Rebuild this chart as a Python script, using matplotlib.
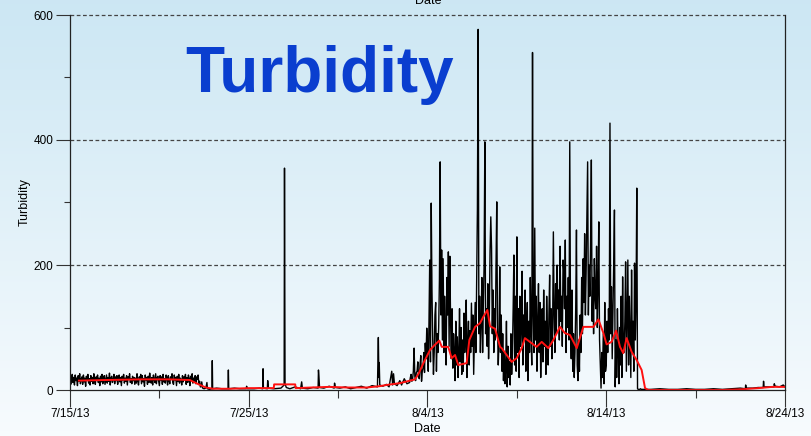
import numpy as np
import pandas as pd
import matplotlib
matplotlib.use("Agg")
import matplotlib.pyplot as plt
from matplotlib.ticker import MultipleLocator

# ---- data ----
start = pd.Timestamp("2013-07-15 00:00")

# 7/15 - 7/22, hourly readings
base_vals = [
    22, 9, 18, 25, 12, 20, 8, 24, 15, 19, 7, 23, 14, 26, 10, 17, 21, 9, 24, 13, 19, 6,
    22, 16, 25, 11, 18, 8, 23, 14, 20, 10, 26, 15, 9, 21, 17, 24, 12, 19, 7, 22, 13, 25,
    10, 18, 23, 9, 16, 24, 11, 20, 14, 27, 8, 19, 22, 12, 17, 25, 10, 21, 15, 23, 9, 18,
    24, 13, 20, 7, 22, 16, 25, 11, 19, 14, 23, 8, 21, 17, 26, 12, 18, 10, 22, 15, 20, 9,
    19, 11, 26, 14, 8, 21, 17, 25, 10, 23, 13, 18, 6, 24, 16, 20, 9, 22, 12, 27, 15, 11,
    20, 8, 24, 17, 12, 26, 10, 19, 22, 14, 7, 23, 16, 21, 9, 25, 13, 18, 11, 24, 19, 8,
    23, 15, 10, 21, 18, 26, 12, 9, 24, 16, 20, 7, 22, 14, 25, 11, 19, 17, 8, 23, 13, 21,
    16, 25, 9, 20, 12, 24, 18, 7, 22, 15, 26, 11, 19, 13, 23, 10, 21, 17, 24, 9, 14, 5,
]

# 7/22 - 8/3, quiet period (day offset from 7/15, value)
quiet_days = [7.33, 7.37, 7.42, 7.5, 7.6, 7.66, 7.69, 7.8, 7.94, 7.96, 7.98, 8.2,
              8.5, 8.84, 8.86, 8.88, 9.2, 9.5, 9.86, 9.88, 9.92, 10.3, 10.6, 10.78,
              10.8, 10.82, 11.04, 11.06, 11.1, 11.4, 11.8, 11.98, 12.0, 12.03, 12.1,
              12.3, 12.6, 12.9, 12.96, 13.0, 13.3, 13.6, 13.88, 13.9, 13.93, 13.96,
              14.2, 14.5, 14.78, 14.8, 14.85, 15.1, 15.4, 15.7, 16.0, 16.3, 16.6,
              16.9, 17.2, 17.25, 17.28, 17.3, 17.33, 17.5, 17.7, 17.85, 18.0, 18.05,
              18.1, 18.15, 18.3, 18.45, 18.55, 18.7, 18.85]
quiet_vals = [5, 13, 3, 2, 3, 12, 2, 1, 2, 47, 2, 3,
              2, 2, 32, 2, 3, 2, 2, 6, 2, 2, 3, 2,
              34, 3, 2, 15, 3, 2, 3, 8, 355, 10, 4,
              2, 5, 2, 13, 3, 2, 4, 3, 32, 20, 4,
              3, 6, 3, 11, 4, 3, 5, 2, 4, 6, 3,
              7, 5, 84, 20, 44, 8, 6, 9, 5, 30, 8,
              26, 10, 7, 15, 8, 18, 10]

# 8/3 - 8/15, storm period, hourly readings (one row per day)
storm_vals = [
    12, 20, 25, 14, 18, 30, 67, 22, 15, 28, 30, 45, 22, 18, 40, 55, 14, 30, 35, 60, 28, 75, 50, 99,            # 8/3
    70, 30, 110, 208, 45, 299, 160, 80, 25, 60, 120, 140, 30, 90, 60, 100, 176, 365, 120, 224, 80, 210, 60, 150,  # 8/4
    90, 40, 180, 120, 221, 70, 214, 110, 50, 130, 35, 90, 60, 15, 110, 40, 85, 20, 60, 130, 45, 100, 25, 80,    # 8/5
    30, 123, 60, 90, 144, 20, 75, 110, 40, 95, 60, 139, 70, 120, 25, 85, 140, 60, 180, 288, 577, 90, 150, 60,   # 8/6
    110, 180, 60, 140, 200, 397, 90, 130, 70, 170, 50, 120, 224, 277, 227, 90, 160, 60, 130, 80, 200, 301, 100, 40,  # 8/7
    80, 197, 60, 120, 30, 90, 15, 60, 10, 40, 110, 5, 70, 20, 45, 8, 90, 25, 60, 130, 216, 40, 150, 30,        # 8/8
    245, 60, 130, 20, 150, 70, 100, 190, 40, 120, 80, 160, 30, 100, 140, 15, 110, 60, 180, 90, 40, 540, 120, 60,  # 8/9
    259, 80, 150, 30, 110, 170, 60, 140, 20, 90, 130, 45, 160, 70, 110, 25, 150, 90, 40, 120, 184, 70, 130, 50,  # 8/10
    100, 253, 120, 60, 170, 90, 200, 130, 160, 80, 230, 110, 150, 70, 208, 190, 130, 240, 60, 150, 100, 180, 80, 397,  # 8/11
    110, 50, 160, 30, 90, 20, 60, 130, 256, 40, 15, 80, 30, 120, 60, 180, 90, 210, 140, 250, 120, 190, 283, 365,  # 8/12
    120, 200, 150, 240, 368, 110, 180, 90, 210, 150, 130, 230, 100, 170, 269, 80, 40, 3, 60, 20, 90, 10, 140, 30,  # 8/13
    40, 110, 60, 130, 80, 427, 90, 165, 50, 120, 200, 288, 5, 80, 20, 130, 60, 10, 100, 40, 150, 20, 181, 60,   # 8/14
    60, 110, 205, 30, 120, 208, 40, 150, 80, 20, 192, 60, 110, 30, 203, 80, 140, 323, 2, 1, 1, 1, 2, 1,         # 8/15
]

# 8/16 - 8/24 tail (day offset from 7/15, value)
tail_days = [32.0, 32.5, 33.0, 33.5, 34.0, 34.5, 35.0, 35.5, 36.0, 36.5, 37.0,
             37.5, 37.78, 37.8, 37.83, 38.2, 38.5, 38.78, 38.8, 38.83, 39.1,
             39.38, 39.4, 39.45, 39.7, 39.9, 40.0]
tail_vals = [1, 1, 2, 1, 1, 2, 1, 1, 2, 1, 2,
             3, 2, 8, 3, 3, 4, 4, 14, 5, 5,
             5, 10, 6, 5, 8, 5]

# running mean (red)
avg_days = [0.5, 2, 4, 5.5, 6.7, 7.2, 7.6, 8.0, 9, 10, 10.8, 11.4, 11.42, 12.6,
            12.62, 13.5, 14.5, 15.5, 16.6, 17.3, 17.7, 18.46, 19.3, 19.5, 19.77,
            20.14, 20.4, 20.66, 20.8, 21.16, 21.35, 21.54, 21.72, 22.19, 22.34,
            22.66, 22.94, 23.12, 23.35, 23.5, 23.78, 24.06, 24.15, 24.43, 24.71,
            24.99, 25.27, 25.45, 25.73, 26.1, 26.39, 26.76, 27.04, 27.41, 27.69,
            27.97, 28.35, 28.72, 29.28, 29.56, 29.84, 30.02, 30.3, 30.55, 30.77,
            30.95, 31.14, 31.42, 31.7, 31.98, 32.17, 32.35, 36.5, 37.5, 38.5,
            39.3, 40]
avg_vals = [15, 16, 17, 17, 16, 9, 4, 2, 2, 3, 3, 3, 9, 9,
            3, 4, 5, 4, 4, 6, 8, 11, 17, 26, 43,
            64, 72, 79, 69, 69, 51, 56, 40, 43, 80,
            101, 107, 117, 128, 102, 98, 69, 67, 56, 45,
            51, 67, 83, 77, 69, 77, 67, 80, 101, 91,
            88, 67, 101, 101, 113, 91, 73, 77, 95, 69,
            59, 83, 61, 48, 32, 3, 0, 0, 1, 3,
            5, 5]

x_ticks = ["7/15/13", "7/25/13", "8/4/13", "8/14/13", "8/24/13"]

# ---- assemble the time series ----
def hourly(t0, n):
    return pd.DatetimeIndex(t0 + pd.to_timedelta(np.arange(n), unit="h"))

base_t = hourly(start, len(base_vals))
quiet_t = pd.DatetimeIndex(start + pd.to_timedelta(quiet_days, unit="D"))
storm_t = hourly(pd.Timestamp("2013-08-03 00:00"), len(storm_vals))
tail_t = pd.DatetimeIndex(start + pd.to_timedelta(tail_days, unit="D"))

turb = pd.Series(base_vals + quiet_vals + storm_vals + tail_vals,
                 index=base_t.append(quiet_t).append(storm_t).append(tail_t))
avg = pd.Series(avg_vals, index=start + pd.to_timedelta(avg_days, unit="D"))

# ---- figure ----
fig = plt.figure(figsize=(8.12, 4.36), dpi=100)

# light blue gradient background
bg = fig.add_axes([0, 0, 1, 1], zorder=-1)
grad = np.linspace(0, 1, 256).reshape(-1, 1)
top = np.array([0.80, 0.905, 0.955])
bot = np.array([0.97, 0.985, 0.995])
img = top + (bot - top) * grad[..., None]
bg.imshow(img, aspect="auto", extent=[0, 1, 0, 1])
bg.set_axis_off()

ax = fig.add_axes([70 / 812, 46 / 436, 715 / 812, 375 / 436])
ax.patch.set_alpha(0)

ax.plot(turb.index, turb.values, color="black", lw=1.0)
ax.plot(avg.index, avg.values, color="#ff1010", lw=1.4)

ax.set_xlim(start, pd.Timestamp("2013-08-24"))
ax.set_ylim(0, 600)

ax.set_xticks(pd.date_range(start, periods=5, freq="10D"))
ax.set_xticks(pd.date_range("2013-07-20", periods=4, freq="10D"), minor=True)
ax.set_xticklabels(x_ticks)
ax.yaxis.set_major_locator(MultipleLocator(200))
ax.yaxis.set_minor_locator(MultipleLocator(100))

small = ["Liberation Sans Narrow", "Liberation Sans", "DejaVu Sans"]
for lab in ax.get_xticklabels() + ax.get_yticklabels():
    lab.set_family(small)
    lab.set_fontsize(8.5)

ax.tick_params(axis="x", which="major", length=12, width=0.8, color="#333333", pad=1)
ax.tick_params(axis="x", which="minor", length=6, width=0.8, color="#333333")
ax.tick_params(axis="y", which="major", length=10, width=0.8, color="#333333", pad=2)
ax.tick_params(axis="y", which="minor", length=4, width=0.8, color="#333333")

ax.spines["top"].set_visible(False)
for s in ["left", "right", "bottom"]:
    ax.spines[s].set_color("#222222")
    ax.spines[s].set_linewidth(0.9)

for yv in [200, 400, 600]:
    ax.axhline(yv, color="#444444", lw=0.9, ls=(0, (3, 2)), zorder=0.5, clip_on=False)

ax.set_ylabel("Turbidity", family=small, fontsize=9, labelpad=2)
ax.set_xlabel("Date", family=small, fontsize=9, labelpad=2)
fig.text(428 / 812, 1 - 1 / 436, "Date", family=small, fontsize=9, ha="center", va="center")

fig.text(320 / 812, 1 - 75 / 436, "Turbidity", family=["Liberation Sans", "DejaVu Sans"],
         fontweight="bold", fontsize=46, color="#0a3ecf", ha="center", va="center")

fig.savefig("out.png", dpi=100)
